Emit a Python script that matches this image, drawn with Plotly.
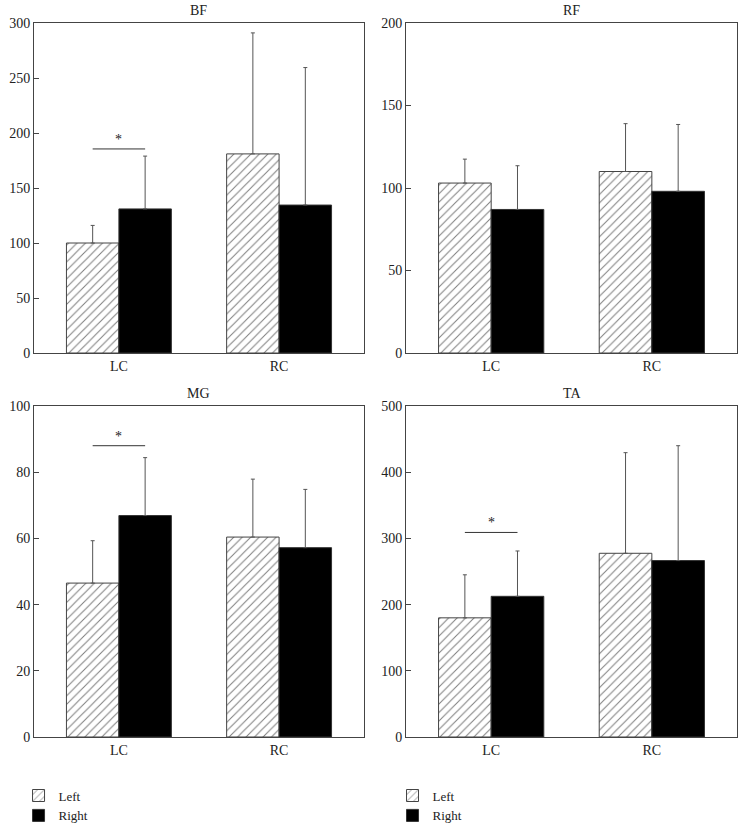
import plotly.graph_objects as go

groups = ["LC", "RC"]
muscles = ["BF", "RF", "MG", "TA"]

bf_left = [100, 181]
bf_left_err = [16, 110]
bf_right = [131, 134.5]
bf_right_err = [48, 125]

rf_left = [103, 110]
rf_left_err = [14.5, 29]
rf_right = [87, 98]
rf_right_err = [26.5, 40.5]

mg_left = [46.5, 60.4]
mg_left_err = [12.8, 17.5]
mg_right = [66.9, 57.2]
mg_right_err = [17.5, 17.6]

ta_left = [180, 277.5]
ta_left_err = [65, 152]
ta_right = [212.5, 266.5]
ta_right_err = [68.5, 173.5]

y_max = [300, 200, 100, 500]
y_step = [50, 50, 20, 100]

# significance bars: (panel index, y of line)
sig_panels = [0, 2, 3]
sig_levels = [185.5, 88, 309]

FONT = "Liberation Serif"
AXIS_COLOR = "#444444"

panels = [
    (bf_left, bf_left_err, bf_right, bf_right_err),
    (rf_left, rf_left_err, rf_right, rf_right_err),
    (mg_left, mg_left_err, mg_right, mg_right_err),
    (ta_left, ta_left_err, ta_right, ta_right_err),
]

x_domains = [[0, 0.4694], [0.5292, 1.0], [0, 0.4694], [0.5292, 1.0]]
y_domains = [[0.5378, 1.0], [0.5378, 1.0], [0, 0.4636], [0, 0.4636]]

fig = go.Figure()

for i, (left, left_err, right, right_err) in enumerate(panels):
    n = "" if i == 0 else str(i + 1)
    legend_name = "legend" if i in (0, 2) else "legend2"
    show = i in (0, 1)

    fig.add_trace(go.Bar(
        x=groups, y=left, name="Left",
        xaxis="x" + n, yaxis="y" + n,
        marker=dict(
            color="white",
            line=dict(color="#444444", width=1),
            pattern=dict(shape="/", fgcolor="#000000", bgcolor="white",
                         size=6, solidity=0.17),
        ),
        error_y=dict(type="data", symmetric=False, array=left_err,
                     arrayminus=[0, 0], color="#555555", thickness=1, width=2),
        showlegend=show, legend=legend_name, legendgroup="left" + legend_name,
    ))
    fig.add_trace(go.Bar(
        x=groups, y=right, name="Right",
        xaxis="x" + n, yaxis="y" + n,
        marker=dict(color="black", line=dict(color="#333333", width=1)),
        error_y=dict(type="data", symmetric=False, array=right_err,
                     arrayminus=[0, 0], color="#555555", thickness=1, width=2),
        showlegend=show, legend=legend_name, legendgroup="right" + legend_name,
    ))

    axis_common = dict(
        showline=True, linecolor=AXIS_COLOR, linewidth=1, mirror=True,
        showgrid=False, zeroline=False, automargin=False,
        tickfont=dict(family=FONT, size=14, color="#222222"),
    )
    fig.layout["xaxis" + n] = dict(
        axis_common, domain=x_domains[i], anchor="y" + n,
        range=[-0.53, 1.53], ticks="",
    )
    fig.layout["yaxis" + n] = dict(
        axis_common, domain=y_domains[i], anchor="x" + n,
        range=[0, y_max[i]], dtick=y_step[i], tick0=0,
        ticks="inside", ticklen=5, tickcolor=AXIS_COLOR,
    )

    fig.add_annotation(
        text=muscles[i], xref="x" + n + " domain", yref="y" + n + " domain",
        x=0.5, y=1.0, yshift=3, xanchor="center", yanchor="bottom",
        showarrow=False, font=dict(family=FONT, size=14, color="#222222"),
    )

half = (1 - 0.345) / 2 / 2
for p, level in zip(sig_panels, sig_levels):
    n = "" if p == 0 else str(p + 1)
    fig.add_shape(
        type="line", xref="x" + n, yref="y" + n,
        x0=-half, x1=half, y0=level, y1=level,
        line=dict(color="#333333", width=1),
    )
    fig.add_annotation(
        text="*", xref="x" + n, yref="y" + n, x=0, y=level,
        yanchor="bottom", showarrow=False,
        font=dict(family=FONT, size=14, color="#222222"),
    )

legend_common = dict(
    orientation="v", xanchor="left", yanchor="top",
    font=dict(family=FONT, size=13, color="#222222"),
    bgcolor="rgba(0,0,0,0)", tracegroupgap=0, itemwidth=30,
)

fig.update_layout(
    width=745, height=830,
    margin=dict(l=34, r=8, t=23, b=93, autoexpand=False),
    paper_bgcolor="white", plot_bgcolor="white",
    barmode="group", bargap=0.345, bargroupgap=0,
    legend=dict(legend_common, x=-0.022, y=-0.061),
    legend2=dict(legend_common, x=0.51, y=-0.061),
    font=dict(family=FONT),
)

# drop the browser's default page margin so the figure sits at the top-left corner
fig.write_html(
    "out.html",
    config={"displayModeBar": False},
    post_script="document.body.style.margin='0';",
)
